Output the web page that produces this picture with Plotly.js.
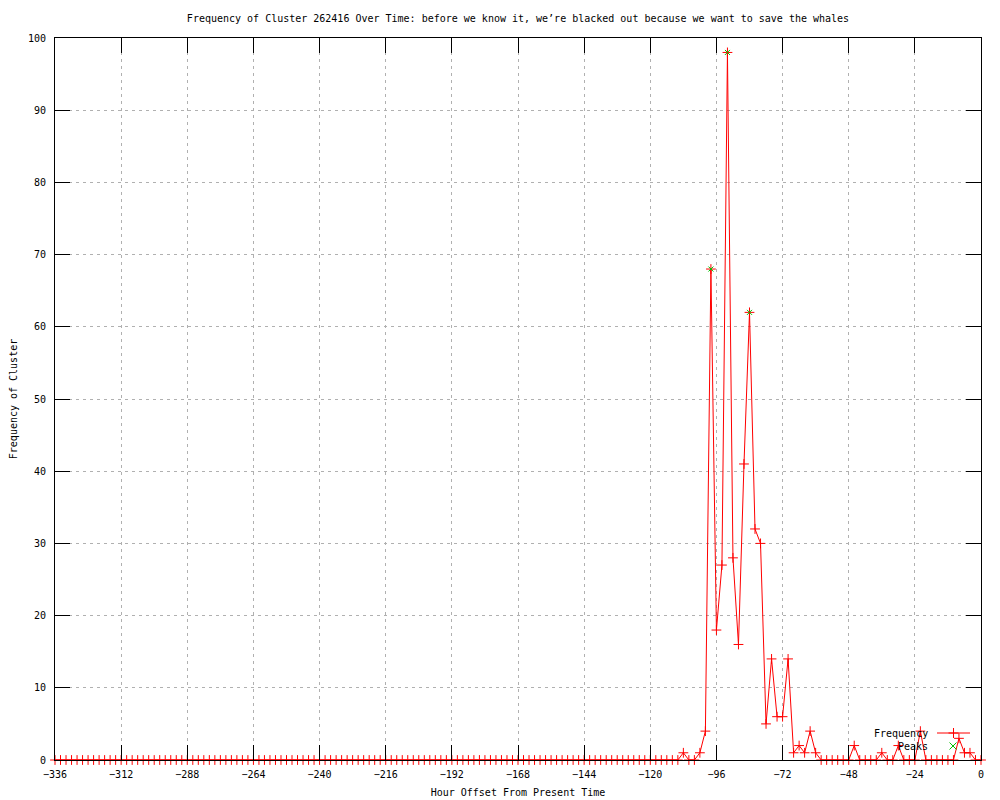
<!DOCTYPE html>
<html>
<head>
<meta charset="utf-8">
<script src="https://cdn.plot.ly/plotly-3.0.1.min.js"></script>
<style>html,body{margin:0;padding:0;background:#fff;}#chart{width:1000px;height:800px;}</style>
</head>
<body>
<div id="chart"></div>
<script>
// ---- data ----
const hours = [
  -336,-334,-332,-330,-328,-326,-324,-322,-320,-318,-316,-314,
  -312,-310,-308,-306,-304,-302,-300,-298,-296,-294,-292,-290,
  -288,-286,-284,-282,-280,-278,-276,-274,-272,-270,-268,-266,
  -264,-262,-260,-258,-256,-254,-252,-250,-248,-246,-244,-242,
  -240,-238,-236,-234,-232,-230,-228,-226,-224,-222,-220,-218,
  -216,-214,-212,-210,-208,-206,-204,-202,-200,-198,-196,-194,
  -192,-190,-188,-186,-184,-182,-180,-178,-176,-174,-172,-170,
  -168,-166,-164,-162,-160,-158,-156,-154,-152,-150,-148,-146,
  -144,-142,-140,-138,-136,-134,-132,-130,-128,-126,-124,-122,
  -120,-118,-116,-114,-112,-110,-108,-106,-104,-102,-100,-98,
  -96,-94,-92,-90,-88,-86,-84,-82,-80,-78,-76,-74,
  -72,-70,-68,-66,-64,-62,-60,-58,-56,-54,-52,-50,
  -48,-46,-44,-42,-40,-38,-36,-34,-32,-30,-28,-26,
  -24,-22,-20,-18,-16,-14,-12,-10,-8,-6,-4,-2,
  0
];
const frequency = [
  0,0,0,0,0,0,0,0,0,0,0,0,
  0,0,0,0,0,0,0,0,0,0,0,0,
  0,0,0,0,0,0,0,0,0,0,0,0,
  0,0,0,0,0,0,0,0,0,0,0,0,
  0,0,0,0,0,0,0,0,0,0,0,0,
  0,0,0,0,0,0,0,0,0,0,0,0,
  0,0,0,0,0,0,0,0,0,0,0,0,
  0,0,0,0,0,0,0,0,0,0,0,0,
  0,0,0,0,0,0,0,0,0,0,0,0,
  0,0,0,0,0,0,1,0,0,1,4,68,
  18,27,98,28,16,41,62,32,30,5,14,6,
  6,14,1,2,1,4,1,0,0,0,0,0,
  0,2,0,0,0,0,1,0,0,2,0,0,
  0,4,0,0,0,0,0,0,3,1,1,0,
  0
];
const peakHours = [-98, -92, -84];
const peakValues = [68, 98, 62];
const seriesNames = ["Frequency", "Peaks"];
const chartTitle = "Frequency of Cluster 262416 Over Time: before we know it, we\u2019re blacked out because we want to save the whales";
const xTitle = "Hour Offset From Present Time";
const yTitle = "Frequency of Cluster";

// ---- layout helpers (pixel -> paper) ----
const L = 55, R = 981, T = 38, B = 760;
const px = x => (x - L) / (R - L);
const py = y => (B - y) / (B - T);

const FONT = "DejaVu Sans Mono, Liberation Mono, monospace";
const RED = "#ff0000";
const GREEN = "#00c000";

const traces = [
  {
    x: hours, y: frequency, name: seriesNames[0], type: "scatter", mode: "lines+markers",
    line: {color: RED, width: 1},
    marker: {symbol: "cross-thin", size: 7, color: RED, line: {color: RED, width: 1}},
    cliponaxis: false, showlegend: false
  },
  {
    x: peakHours, y: peakValues, name: seriesNames[1], type: "scatter", mode: "markers",
    marker: {symbol: "x-thin", size: 5, color: GREEN, line: {color: GREEN, width: 1}},
    cliponaxis: false, showlegend: false
  }
];

const axisCommon = {
  showline: true, linecolor: "#000", linewidth: 1, mirror: "ticks",
  ticks: "inside", ticklen: 15, tickcolor: "#000", tickwidth: 1,
  showgrid: true, gridcolor: "#b0b0b0", gridwidth: 1, griddash: "3px,4px",
  zeroline: false, tickfont: {family: FONT, size: 10, color: "#000"}
};

const layout = {
  width: 1000, height: 800,
  margin: {l: L, r: 1000 - R, t: T, b: 800 - B, pad: 0},
  paper_bgcolor: "#fff", plot_bgcolor: "#fff",
  font: {family: FONT, size: 10, color: "#000"},
  title: {text: chartTitle, font: {family: FONT, size: 10, color: "#000"},
          xref: "paper", x: 0.5, xanchor: "center", yref: "container", y: 1 - 18/800, yanchor: "middle"},
  xaxis: Object.assign({}, axisCommon, {
    range: [-336, 0], tick0: 0, dtick: 24, ticklabelstandoff: 5,
    title: {text: xTitle, font: {family: FONT, size: 10, color: "#000"}, standoff: 9}
  }),
  yaxis: Object.assign({}, axisCommon, {
    range: [0, 100], tick0: 0, dtick: 10, ticklabelstandoff: 6,
    title: {text: yTitle, font: {family: FONT, size: 10, color: "#000"}, standoff: 8}
  }),
  showlegend: false,
  shapes: [
    {type: "line", xref: "paper", yref: "paper", x0: px(937), x1: px(970), y0: py(733), y1: py(733), line: {color: RED, width: 1}},
    {type: "line", xref: "paper", yref: "paper", x0: px(953.5), x1: px(953.5), y0: py(728), y1: py(738), line: {color: RED, width: 1}},
    {type: "line", xref: "paper", yref: "paper", x0: px(948.5), x1: px(958.5), y0: py(733), y1: py(733), line: {color: RED, width: 1}},
    {type: "line", xref: "paper", yref: "paper", x0: px(949.5), x1: px(956.5), y0: py(742.5), y1: py(749.5), line: {color: GREEN, width: 1}},
    {type: "line", xref: "paper", yref: "paper", x0: px(949.5), x1: px(956.5), y0: py(749.5), y1: py(742.5), line: {color: GREEN, width: 1}}
  ],
  annotations: [
    {text: seriesNames[0], xref: "paper", yref: "paper", x: px(930), y: py(733), xanchor: "right", yanchor: "middle", showarrow: false, font: {family: FONT, size: 10, color: "#000"}},
    {text: seriesNames[1], xref: "paper", yref: "paper", x: px(930), y: py(746), xanchor: "right", yanchor: "middle", showarrow: false, font: {family: FONT, size: 10, color: "#000"}}
  ]
};

Plotly.newPlot("chart", traces, layout, {staticPlot: true, displayModeBar: false});
</script>
</body>
</html>
